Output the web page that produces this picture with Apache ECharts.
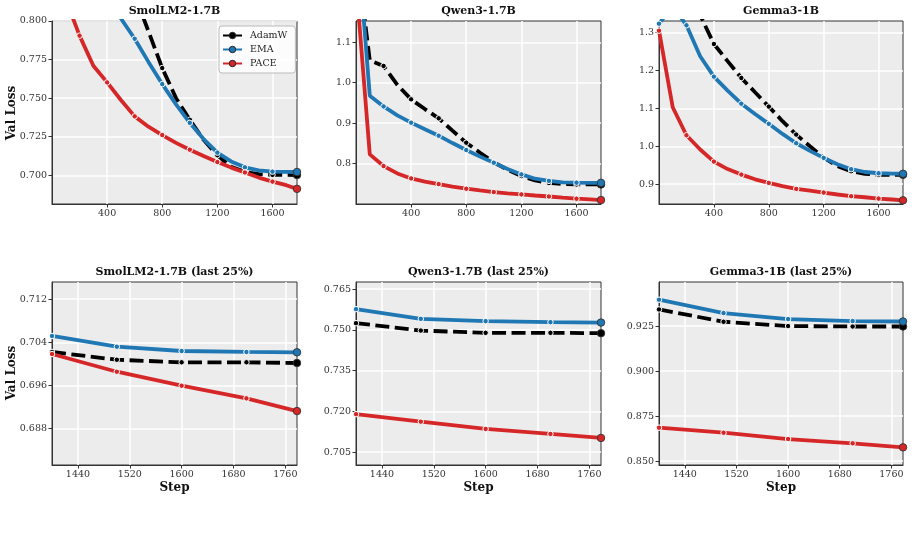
<!DOCTYPE html>
<html>
<head>
<meta charset="utf-8">
<script src="https://cdn.jsdelivr.net/npm/echarts@6/dist/echarts.min.js"></script>
<style>
  html, body { margin: 0; padding: 0; background: #fff; }
  #container { width: 916px; height: 558px; }
</style>
</head>
<body>
<div id="container"></div>
<script>
// training steps (last eval at 1778)
var steps = [0, 100, 200, 300, 400, 500, 600, 700, 800, 900, 1000, 1100, 1200, 1300, 1400, 1500, 1600, 1700, 1778];

// SmolLM2-1.7B
var smolAdamW = [1.25, 1.02, 0.93, 0.885, 0.86, 0.838, 0.817, 0.7933, 0.7695, 0.7500, 0.7360, 0.7230, 0.7130, 0.7055, 0.7022, 0.70076, 0.70028, 0.70028, 0.70015];
var smolEMA   = [1.25, 1.05, 0.94, 0.875, 0.835, 0.8016, 0.7885, 0.7735, 0.7591, 0.7460, 0.7340, 0.7235, 0.7147, 0.7090, 0.70517, 0.70318, 0.70238, 0.7022, 0.70214];
var smolPACE  = [1.20, 0.814, 0.7905, 0.7710, 0.7602, 0.7488, 0.7382, 0.7315, 0.7261, 0.7210, 0.7166, 0.7125, 0.7086, 0.7050, 0.70182, 0.69853, 0.69593, 0.69358, 0.69122];

// Qwen3-1.7B
var qwenAdamW = [1.33, 1.0553, 1.0415, 0.995, 0.9590, 0.935, 0.9121, 0.8816, 0.8519, 0.8272, 0.8033, 0.7852, 0.7695, 0.7590, 0.75247, 0.74974, 0.7489, 0.7489, 0.74878];
var qwenEMA   = [1.40, 0.9680, 0.9415, 0.9195, 0.9014, 0.8850, 0.8692, 0.8510, 0.8338, 0.8175, 0.8025, 0.7870, 0.7736, 0.7630, 0.75762, 0.75405, 0.7532, 0.75283, 0.75269];
var qwenPACE  = [1.25, 0.8231, 0.7942, 0.7760, 0.7637, 0.7560, 0.7497, 0.7437, 0.7382, 0.7340, 0.7299, 0.7270, 0.7242, 0.7215, 0.7190, 0.71625, 0.71356, 0.71172, 0.71025];

// Gemma3-1B
var gemmaAdamW = [1.60, 1.52, 1.43, 1.345, 1.2692, 1.224, 1.1797, 1.142, 1.1044, 1.066, 1.0307, 1.000, 0.9700, 0.9480, 0.93425, 0.9274, 0.9250, 0.92478, 0.92478];
var gemmaEMA   = [1.3226, 1.369, 1.3184, 1.2368, 1.1832, 1.1465, 1.1121, 1.085, 1.0590, 1.0325, 1.0079, 0.9877, 0.9693, 0.9526, 0.93965, 0.93224, 0.9289, 0.92778, 0.92756];
var gemmaPACE  = [1.3042, 1.1026, 1.0290, 0.9915, 0.9596, 0.9400, 0.9254, 0.9130, 0.9035, 0.8950, 0.8877, 0.8830, 0.8781, 0.8730, 0.86853, 0.86574, 0.86223, 0.85983, 0.8576];

// tick labels
var fullStepTicks = [400, 800, 1200, 1600];
var lastStepTicks = [1440, 1520, 1600, 1680, 1760];
var smolTicks = [0.700, 0.725, 0.750, 0.775, 0.800];
var qwenTicks = [0.8, 0.9, 1.0, 1.1];
var gemmaTicks = [0.9, 1.0, 1.1, 1.2, 1.3];
var smolLastTicks = [0.688, 0.696, 0.704, 0.712];
var qwenLastTicks = [0.705, 0.720, 0.735, 0.750, 0.765];
var gemmaLastTicks = [0.850, 0.875, 0.900, 0.925];

var titles = ['SmolLM2-1.7B', 'Qwen3-1.7B', 'Gemma3-1B', 'SmolLM2-1.7B (last 25%)', 'Qwen3-1.7B (last 25%)', 'Gemma3-1B (last 25%)'];

var SERIF = '"DejaVu Serif", "Liberation Serif", serif';
var COLORS = { AdamW: '#000000', EMA: '#1f77b4', PACE: '#d62728' };

var dom = document.getElementById('container');
var myChart = echarts.init(dom, null, { renderer: 'canvas' });

// panel boxes
var boxes = [
    { left: 52, top: 21, width: 245, height: 183 },
    { left: 356, top: 21, width: 245, height: 183 },
    { left: 659, top: 21, width: 244, height: 183 },
    { left: 52, top: 282, width: 245, height: 183 },
    { left: 356, top: 282, width: 245, height: 183 },
    { left: 659, top: 282, width: 244, height: 183 }
];

var panels = [
    { x: [0, 1778], xt: fullStepTicks, y: [0.6814, 0.800], yt: smolTicks, dec: 3, d: [smolAdamW, smolEMA, smolPACE], start: 0 },
    { x: [0, 1778], xt: fullStepTicks, y: [0.7005, 1.1525], yt: qwenTicks, dec: 1, d: [qwenAdamW, qwenEMA, qwenPACE], start: 0 },
    { x: [0, 1778], xt: fullStepTicks, y: [0.848, 1.3297], yt: gemmaTicks, dec: 1, d: [gemmaAdamW, gemmaEMA, gemmaPACE], start: 0 },
    { x: [1400, 1778], xt: lastStepTicks, y: [0.6812, 0.7152], yt: smolLastTicks, dec: 3, d: [smolAdamW, smolEMA, smolPACE], start: 14 },
    { x: [1400, 1778], xt: lastStepTicks, y: [0.7003, 0.7676], yt: qwenLastTicks, dec: 3, d: [qwenAdamW, qwenEMA, qwenPACE], start: 14 },
    { x: [1400, 1778], xt: lastStepTicks, y: [0.8478, 0.9495], yt: gemmaLastTicks, dec: 3, d: [gemmaAdamW, gemmaEMA, gemmaPACE], start: 14 }
];

function buildData(vals, start) {
    var out = [];
    var last = steps.length - 1;
    for (var i = start; i < steps.length; i++) {
        var item = { value: [steps[i], vals[i]] };
        var marked = start === 0 ? (i % 2 === 0) : true;
        if (i === last) {
            item.symbol = 'circle';
            item.symbolSize = 7.5;
            item.itemStyle = { borderColor: '#333', borderWidth: 0.9 };
        } else if (marked) {
            item.symbol = 'circle';
            item.symbolSize = 5.5;
        } else {
            item.symbol = 'none';
        }
        out.push(item);
    }
    return out;
}

var grid = [], xAxis = [], yAxis = [], series = [], graphic = [];
var names = ['AdamW', 'EMA', 'PACE'];

panels.forEach(function (p, k) {
    var b = boxes[k];
    grid.push({
        left: b.left, top: b.top, width: b.width, height: b.height,
        show: true, backgroundColor: '#ececec', borderColor: '#333', borderWidth: 1
    });
    xAxis.push({
        type: 'value', gridIndex: k, min: p.x[0], max: p.x[1],
        axisLine: { show: true, onZero: false, lineStyle: { color: '#333', width: 1 } },
        axisTick: { show: true, length: 3.5, customValues: p.xt, lineStyle: { color: '#333' } },
        axisLabel: {
            customValues: p.xt, margin: 5, fontSize: 9.5, color: '#333', fontFamily: SERIF,
            formatter: function (v) { return String(Math.round(v)); }
        },
        splitLine: { show: true, lineStyle: { color: '#ffffff', width: 1.5 } }
    });
    yAxis.push({
        type: 'value', gridIndex: k, min: p.y[0], max: p.y[1],
        axisLine: { show: true, onZero: false, lineStyle: { color: '#333', width: 1 } },
        axisTick: { show: true, length: 3.5, customValues: p.yt, lineStyle: { color: '#333' } },
        axisLabel: {
            customValues: p.yt, margin: 5, fontSize: 9.5, color: '#333', fontFamily: SERIF,
            formatter: function (v) { return Number(v).toFixed(p.dec); }
        },
        splitLine: { show: true, lineStyle: { color: '#ffffff', width: 1.5 } }
    });

    names.forEach(function (nm, j) {
        series.push({
            name: nm,
            type: 'line',
            xAxisIndex: k, yAxisIndex: k,
            data: buildData(p.d[j], p.start),
            symbol: 'circle',
            symbolSize: 5.5,
            showAllSymbol: true,
            clip: true,
            z: 2 + j,
            lineStyle: {
                color: COLORS[nm],
                width: 3.8,
                type: nm === 'AdamW' ? [14, 5.5] : 'solid'
            },
            itemStyle: { color: COLORS[nm], borderColor: '#ffffff', borderWidth: 1 },
            emphasis: { disabled: true }
        });
    });

    graphic.push({
        type: 'text', x: b.left + b.width / 2, y: b.top - 10,
        style: { text: titles[k], font: 'bold 11px ' + SERIF, fill: '#111', align: 'center', verticalAlign: 'middle' }
    });
    if (k >= 3) {
        graphic.push({
            type: 'text', x: b.left + b.width / 2, y: 488,
            style: { text: 'Step', font: 'bold 12px ' + SERIF, fill: '#111', align: 'center', verticalAlign: 'middle' }
        });
    }
});

// y axis names
graphic.push({
    type: 'text', x: 12, y: 113, rotation: Math.PI / 2,
    style: { text: 'Val Loss', font: 'bold 12px ' + SERIF, fill: '#111', align: 'center', verticalAlign: 'middle' }
});
graphic.push({
    type: 'text', x: 12, y: 373, rotation: Math.PI / 2,
    style: { text: 'Val Loss', font: 'bold 12px ' + SERIF, fill: '#111', align: 'center', verticalAlign: 'middle' }
});

var option = {
    animation: false,
    backgroundColor: '#ffffff',
    grid: grid,
    xAxis: xAxis,
    yAxis: yAxis,
    legend: {
        data: names,
        orient: 'vertical',
        left: 219, top: 26,
        itemWidth: 19, itemHeight: 8, itemGap: 3,
        padding: [4, 8, 4, 3],
        backgroundColor: 'rgba(255,255,255,0.85)',
        borderColor: '#bbbbbb', borderWidth: 1, borderRadius: 3,
        textStyle: { fontFamily: SERIF, fontSize: 9.5, color: '#222', lineHeight: 11, padding: [0, 0, 0, 3] },
        lineStyle: { type: 'solid', width: 2 },
        itemStyle: { borderColor: '#222', borderWidth: 1 }
    },
    series: series,
    graphic: graphic
};

myChart.setOption(option, true);
</script>
</body>
</html>
